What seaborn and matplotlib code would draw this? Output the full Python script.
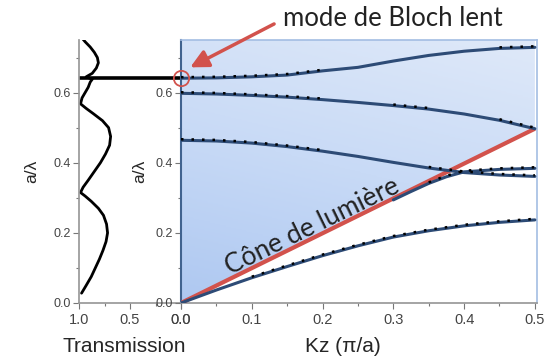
import numpy as np
import pandas as pd
import matplotlib.pyplot as plt
import seaborn as sns
from matplotlib.colors import LinearSegmentedColormap

# Transmission spectrum (left panel)
freq_t = [0.028, 0.05, 0.075, 0.10, 0.125, 0.15, 0.175, 0.20, 0.225, 0.25, 0.27, 0.29, 0.305,
          0.315, 0.33, 0.35, 0.375, 0.40, 0.425, 0.45, 0.475, 0.50, 0.52, 0.54, 0.555, 0.568,
          0.585, 0.60, 0.615, 0.63, 0.638, 0.645, 0.655, 0.67, 0.685, 0.70, 0.715, 0.73, 0.745, 0.752]
trans = [0.975, 0.93, 0.88, 0.84, 0.80, 0.765, 0.735, 0.72, 0.73, 0.76, 0.81, 0.88, 0.94,
         0.985, 0.96, 0.91, 0.85, 0.79, 0.74, 0.70, 0.69, 0.71, 0.77, 0.86, 0.93, 0.985,
         0.97, 0.94, 0.91, 0.89, 0.87, 0.93, 0.87, 0.83, 0.81, 0.82, 0.85, 0.89, 0.94, 0.96]
slow_mode = 0.641  # a/lambda of the slow Bloch mode (transmission dip)

# Band diagram (right panel)
kz = [0.0, 0.05, 0.10, 0.15, 0.20, 0.25, 0.30, 0.35, 0.40, 0.45, 0.50]
band1 = [0.0, 0.037, 0.072, 0.104, 0.135, 0.163, 0.188, 0.206, 0.220, 0.230, 0.237]
band2 = [0.464, 0.462, 0.456, 0.446, 0.433, 0.418, 0.401, 0.385, 0.372, 0.365, 0.361]
band3 = [0.598, 0.596, 0.592, 0.587, 0.580, 0.572, 0.563, 0.553, 0.539, 0.521, 0.497]
band4 = [0.641, 0.642, 0.645, 0.650, 0.662, 0.672, 0.690, 0.706, 0.718, 0.726, 0.729]
kz_2b = [0.30, 0.325, 0.35, 0.375, 0.40, 0.45, 0.50]
band2b = [0.294, 0.318, 0.341, 0.360, 0.374, 0.381, 0.384]
light_kz = [0.0, 0.5]
light_cone = [0.0, 0.497]

# kz ranges where the simulated points (black dots) are visible
dot_ranges = {
    'band1': [(0.10, 0.50)],
    'band2': [(0.0, 0.20), (0.35, 0.50)],
    'band3': [(0.0, 0.20), (0.30, 0.35), (0.45, 0.50)],
    'band4': [(0.0, 0.20), (0.45, 0.50)],
}

sns.set_theme(style='ticks')
plt.rcParams['font.family'] = ['Liberation Sans', 'DejaVu Sans']

band_color = '#2d4b76'
red = '#d2524c'
tick_color = '#444444'
calibri_like = ['Lato', 'DejaVu Sans']

fig = plt.figure(figsize=(5.46, 3.63), dpi=100)
ax_t = fig.add_axes([0.1447, 0.1653, 0.1868, 0.7245])
ax_b = fig.add_axes([0.3315, 0.1653, 0.652, 0.7245])

# --- left panel: transmission (curve runs along the frequency axis)
df_t = pd.DataFrame({'T': trans, 'f': freq_t})
sns.lineplot(data=df_t, x='T', y='f', orient='y', estimator=None, sort=False,
             color='black', linewidth=2, ax=ax_t)
ax_t.plot([1.0, 0.0], [slow_mode, slow_mode], color='black', linewidth=2.6,
          solid_capstyle='butt')
ax_t.set_xlim(1.0, 0.0)
ax_t.set_ylim(0, 0.75)
ax_t.spines['top'].set_visible(False)
ax_t.spines['right'].set_visible(False)
ax_t.set_xticks([1.0, 0.5, 0.0])
ax_t.set_xticks([0.75, 0.25], minor=True)
ax_t.set_yticks([0.0, 0.2, 0.4, 0.6])
ax_t.set_yticks([0.1, 0.3, 0.5, 0.7], minor=True)
ax_t.set_xlabel('Transmission', fontsize=15)
ax_t.xaxis.set_label_coords(0.44, -0.13)
ax_t.set_ylabel('a/λ', fontsize=12.5, labelpad=10)

# --- right panel: band diagram
ax_b.set_xlim(0, 0.503)
ax_b.set_ylim(0, 0.75)

# light blue region above the light line, lighter towards the top
poly = ax_b.fill_between(light_kz, light_cone, 0.75, color='none', linewidth=0)
cmap = LinearSegmentedColormap.from_list('cone', ['#aec8f1', '#c8daf6', '#dfe9f9'])
gx, gy = np.meshgrid(np.linspace(0, 1, 200), np.linspace(0, 1, 200))
grad = 0.75 * gy + 0.25 * gx
im = ax_b.imshow(grad, extent=[0, 0.503, 0, 0.75], origin='lower', aspect='auto',
                 cmap=cmap, zorder=0)
im.set_clip_path(poly.get_paths()[0], transform=ax_b.transData)

ax_b.plot(light_kz, light_cone, color=red, linewidth=3, zorder=3, solid_capstyle='butt')

bands = {'band1': band1, 'band2': band2, 'band3': band3, 'band4': band4}
for name, vals in bands.items():
    df = pd.DataFrame({'kz': kz, 'f': vals})
    sns.lineplot(data=df, x='kz', y='f', color=band_color, linewidth=2.2, ax=ax_b, zorder=4)
    for lo, hi in dot_ranges[name]:
        seg = df[(df['kz'] >= lo - 1e-9) & (df['kz'] <= hi + 1e-9)]
        ax_b.plot(seg['kz'], seg['f'] + 0.003, color='black', linewidth=1.8,
                  linestyle=(0, (1, 3.2)), zorder=5)
df_2b = pd.DataFrame({'kz': kz_2b, 'f': band2b})
sns.lineplot(data=df_2b, x='kz', y='f', color=band_color, linewidth=2.2, ax=ax_b, zorder=4)
seg = df_2b[df_2b['kz'] >= 0.35]
ax_b.plot(seg['kz'], seg['f'] + 0.003, color='black', linewidth=1.8,
          linestyle=(0, (1, 3.2)), zorder=5)

ax_b.set_xticks([0.0, 0.1, 0.2, 0.3, 0.4, 0.5])
ax_b.set_xticks(np.arange(0.05, 0.5, 0.1), minor=True)
ax_b.set_yticks([0.0, 0.2, 0.4, 0.6])
ax_b.set_yticks([0.1, 0.3, 0.5, 0.7], minor=True)
ax_b.set_xlabel('Kz (π/a)', fontsize=15)
ax_b.xaxis.set_label_coords(0.455, -0.13)
ax_b.set_ylabel('a/λ', fontsize=12.5, labelpad=6)
ax_b.spines['left'].set_color('#41638f')
ax_b.spines['left'].set_linewidth(1.5)
for s in ['top', 'right']:
    ax_b.spines[s].set_color('#a3bde3')
    ax_b.spines[s].set_linewidth(1.2)

for ax in (ax_t, ax_b):
    ax.set_xticklabels([f'{t:.1f}' for t in ax.get_xticks()])
    ax.set_yticklabels([f'{t:.1f}' for t in ax.get_yticks()])
    ax.tick_params(which='major', length=4, width=0.8, color='#777777',
                   labelsize=9, labelcolor=tick_color, pad=2)
    ax.tick_params(which='minor', length=2.5, width=0.8, color='#777777')
    ax.tick_params(axis='x', labelsize=10.5, pad=3)
    ax.spines['bottom'].set_color('#999999')
    ax.set_facecolor('none')
ax_t.spines['left'].set_color('#999999')

# slow Bloch mode marker and annotation
ax_b.plot([0], [slow_mode], marker='o', markersize=11, markerfacecolor='none',
          markeredgecolor=red, markeredgewidth=1.3, clip_on=False, zorder=6)
ax_b.annotate('', xy=(0.013, 0.672), xycoords='data',
              xytext=(0.502, 0.934), textcoords='figure fraction',
              arrowprops=dict(arrowstyle='-|>,head_length=0.9,head_width=0.45',
                              color=red, linewidth=2.5, shrinkA=0, shrinkB=0))
fig.text(0.72, 0.948, 'mode de Bloch lent', fontsize=18.5, family=calibri_like,
         ha='center', va='center', color='#222222')
ax_b.text(0.186, 0.217, 'Cône de lumière', fontsize=19, family=calibri_like,
          rotation=26, ha='center', va='center', color='#222222', zorder=7)

fig.savefig('out.png', dpi=100)
